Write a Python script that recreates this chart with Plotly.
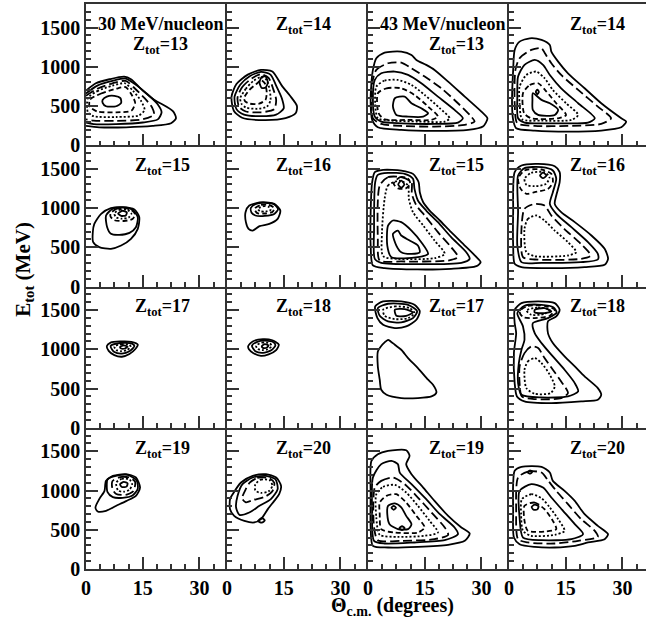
import plotly.graph_objects as go
from plotly.subplots import make_subplots

# ---------------- tick labels / panel labels ----------------
theta_ticks = [0, 15, 30]
energy_ticks = [0, 500, 1000, 1500]
z_odd = [13, 15, 17, 19]
z_even = [14, 16, 18, 20]
beam_labels = ["30 MeV/nucleon", "43 MeV/nucleon"]

# ---------------- contour lines ----------------
# each entry: (contour level, [(theta_cm in degrees, E_tot in MeV), ...])
c30_z13 = [
    (1, [(0, 696), (2.6, 790), (6.2, 841), (10.1, 875), (11.9, 841), (15.0, 696), (18.1, 578), (21.2, 493), (23.1, 429), (23.8, 344), (22.5, 280), (17.6, 246), (10.6, 229), (3.5, 229), (0, 246)]),
    (3, [(0, 660), (3, 760), (7, 820), (10.5, 850), (13.5, 760), (16.5, 640), (19, 520), (20, 420), (19, 330), (15, 290), (8, 270), (2, 270), (0, 290)]),
    (2, [(0, 630), (3, 720), (7, 790), (10.5, 820), (13, 720), (15.5, 600), (17.5, 480), (18, 390), (15, 330), (8, 310), (2, 315), (0, 330)]),
    (4, [(0.5, 600), (3, 690), (7, 760), (10.3, 790), (12.5, 690), (14.5, 570), (15.5, 450), (14, 380), (8, 360), (2, 370), (0.5, 420), (0.5, 600)]),
    (5, [(1, 580), (4, 660), (8, 720), (10.5, 740), (12, 650), (13, 540), (12, 440), (8, 420), (3, 430), (1, 490), (1, 580)]),
    (6, [(4.4, 578), (5.5, 620), (7.5, 629), (9.1, 600), (9.3, 540), (8, 497), (5.3, 497), (4.4, 540), (4.4, 578)]),
]
c30_z14 = [
    (1, [(1.2, 620), (2.5, 780), (5.5, 900), (9, 960), (12, 940), (14.5, 760), (17, 610), (18.5, 500), (18.2, 410), (15.5, 345), (10, 320), (4, 350), (1.8, 440), (1.2, 620)]),
    (3, [(2, 620), (3.5, 770), (6, 880), (9, 935), (11.5, 900), (13, 760), (14.5, 600), (15, 470), (13, 390), (9, 370), (4.5, 390), (2.5, 460), (2, 620)]),
    (2, [(2.8, 610), (4, 740), (6.5, 850), (9, 905), (11, 860), (12.2, 720), (13, 580), (12.5, 460), (9, 420), (5, 430), (3.2, 490), (2.8, 610)]),
    (4, [(3.5, 600), (5, 720), (7, 820), (9, 870), (10.5, 830), (11.3, 700), (11.5, 570), (10.5, 490), (8, 465), (5, 480), (3.8, 530), (3.5, 600)]),
    (5, [(4.5, 600), (6, 710), (8, 790), (9, 830), (10, 790), (10.5, 680), (10.2, 580), (8.5, 530), (6, 530), (4.8, 560), (4.5, 600)]),
    (6, [(8.6, 800), (9.2, 870), (10.2, 875), (10.8, 800), (10.2, 735), (9.2, 730), (8.6, 800)]),
]
c30_z15 = [
    (1, [(2.2, 798), (4.0, 926), (6.6, 998), (9.7, 1011), (12.8, 981), (14.1, 883), (13.7, 735), (11.9, 607), (9.3, 522), (6.6, 480), (3.5, 501), (1.9, 565), (1.8, 692), (2.2, 798)]),
    (3, [(5.3, 905), (7.1, 990), (9.7, 1007), (12.3, 977), (13.7, 883), (13.2, 756), (11.5, 684), (8.8, 658), (6.6, 671), (5.6, 756), (5.3, 905)]),
    (5, [(6.5, 930), (8, 990), (10, 1000), (12, 975), (13, 920), (12.3, 860), (10, 835), (7.5, 845), (6.5, 890), (6.5, 930)]),
    (4, [(7.5, 930), (9, 980), (11, 975), (12, 930), (11.3, 880), (9.5, 865), (8, 880), (7.5, 930)]),
    (6, [(8.5, 930), (9.7, 965), (10.8, 945), (10.5, 905), (9.3, 900), (8.5, 930)]),
]
c30_z16 = [
    (1, [(4.9, 947), (5.9, 1032), (9.4, 1074), (12.5, 1053), (14.1, 968), (13.4, 862), (11.2, 798), (8.6, 769), (6.8, 713), (5.7, 735), (5.0, 820), (4.9, 947)]),
    (3, [(6.3, 1000), (7.5, 1050), (10, 1065), (12.5, 1045), (13.5, 985), (12.5, 925), (10, 900), (7.5, 905), (6.5, 940), (6.3, 1000)]),
    (5, [(7.3, 990), (9, 1040), (11, 1040), (12.5, 1000), (12, 950), (10, 930), (8, 935), (7.3, 990)]),
    (4, [(8.2, 990), (9.7, 1025), (11.2, 1010), (11.5, 975), (10.2, 955), (8.7, 960), (8.2, 990)]),
]
c30_z17 = [
    (1, [(5.5, 1040), (6.5, 1085), (9, 1100), (12, 1095), (13.7, 1060), (13, 1000), (11.5, 940), (9.5, 905), (7.5, 925), (6, 980), (5.5, 1040)]),
    (3, [(6.5, 1040), (9, 1080), (12, 1075), (12.8, 1040), (11.5, 975), (9.5, 945), (7.5, 965), (6.5, 1040)]),
    (4, [(7.5, 1035), (9.5, 1065), (11.5, 1058), (11.8, 1030), (10.8, 990), (9.3, 975), (8, 990), (7.5, 1035)]),
    (6, [(9, 1030), (10, 1050), (11, 1035), (10.3, 1010), (9.3, 1010), (9, 1030)]),
]
c30_z18 = [
    (1, [(5.6, 1040), (6.8, 1100), (9.5, 1130), (12, 1115), (13.7, 1060), (13, 990), (11, 935), (9, 915), (7, 950), (5.8, 1000), (5.6, 1040)]),
    (3, [(6.6, 1045), (8, 1095), (10, 1110), (12.3, 1090), (12.8, 1050), (11.8, 990), (9.5, 955), (7.5, 975), (6.6, 1045)]),
    (4, [(7.7, 1045), (9.3, 1085), (11.3, 1075), (11.8, 1040), (10.8, 1000), (9.3, 990), (8.1, 1005), (7.7, 1045)]),
    (6, [(9.2, 1040), (10, 1065), (11, 1050), (10.5, 1020), (9.5, 1018), (9.2, 1040)]),
]
c30_z19 = [
    (1, [(5.3, 1124), (7.1, 1187), (10.6, 1208), (13.2, 1166), (14.3, 1039), (13.2, 933), (10.6, 865), (7.9, 803), (5.3, 741), (3.1, 733), (2.5, 784), (3.5, 890), (4.9, 996), (5.1, 1081), (5.3, 1124)]),
    (3, [(5.7, 1145), (7.9, 1187), (11.0, 1200), (13.4, 1128), (13.7, 1022), (12.3, 937), (9.7, 907), (7.1, 916), (5.7, 980), (5.5, 1081), (5.7, 1145)]),
    (2, [(7, 1120), (9, 1170), (11.5, 1165), (13, 1110), (12.5, 990), (10.5, 945), (8, 955), (7, 1020), (7, 1120)]),
    (4, [(8, 1100), (9.5, 1150), (11.5, 1140), (12.2, 1080), (11.5, 1010), (10, 985), (8.5, 1000), (8, 1100)]),
    (6, [(9, 1080), (10, 1110), (11, 1090), (10.7, 1050), (9.5, 1045), (9, 1080)]),
]
c30_z20 = [
    (1, [(1.5, 953), (3.7, 1102), (6.8, 1187), (10.3, 1208), (13.0, 1166), (14.3, 1060), (13.8, 953), (12.5, 868), (10.8, 763), (9.0, 636), (7.2, 593), (4.6, 614), (1.9, 678), (0.8, 763), (0.8, 890), (1.5, 953)]),
    (3, [(4.1, 1081), (6.8, 1166), (10.3, 1187), (12.8, 1145), (13.4, 1018), (11.6, 890), (8.6, 805), (5.9, 720), (3.3, 690), (2.4, 784), (2.8, 933), (4.1, 1081)]),
    (2, [(6, 1100), (8, 1160), (11, 1160), (12.5, 1100), (12, 990), (10, 920), (7, 880), (5, 850), (4, 900), (5, 1020), (6, 1100)]),
    (4, [(7.5, 1080), (9, 1140), (11.3, 1130), (12, 1060), (11, 990), (9, 970), (7.5, 1000), (7.5, 1080)]),
    (6, [(8.2, 610), (9.2, 650), (10, 620), (9.2, 590), (8.2, 610)]),
]
c43_z13 = [
    (1, [(1.3, 960), (2.2, 1108), (4.4, 1181), (8.8, 1193), (11.5, 1151), (12.8, 1087), (15.4, 1024), (17.6, 960), (21.2, 811), (25.6, 620), (30.0, 429), (31.6, 344), (30.4, 238), (26.5, 195), (17.6, 183), (8.8, 195), (2.6, 229), (1.1, 323), (0.7, 535), (0.9, 790), (1.3, 960)]),
    (2, [(1.1, 790), (2.2, 960), (5.3, 1045), (8.8, 1053), (11.5, 981), (15, 875), (19.4, 726), (23.8, 535), (27.3, 365), (28.2, 302), (25.6, 259), (17.6, 238), (8.8, 246), (3.5, 272), (1.3, 344), (0.9, 535), (1.1, 790)]),
    (3, [(1.8, 832), (3.5, 917), (7.1, 939), (10.6, 896), (14.1, 790), (18.5, 620), (22.9, 450), (25.1, 344), (23.8, 289), (17.6, 272), (8.8, 280), (3.5, 302), (1.8, 365), (1.3, 578), (1.8, 832)]),
    (4, [(2.2, 747), (4.4, 824), (7.9, 832), (11.5, 769), (15, 641), (19, 471), (21.6, 344), (20.3, 302), (13.2, 302), (6.2, 314), (2.6, 344), (1.9, 535), (2.2, 747)]),
    (5, [(2.6, 663), (4.9, 726), (8.8, 726), (12.3, 641), (15.9, 493), (18.5, 365), (16.8, 323), (10.6, 323), (4.4, 331), (2.8, 408), (2.6, 663)]),
    (6, [(7.1, 599), (9.7, 620), (11.5, 535), (14.1, 471), (15.9, 408), (14.6, 365), (10.6, 365), (7.5, 386), (6.6, 493), (7.1, 599)]),
]
c43_z14 = [
    (1, [(1.5, 1215), (2.8, 1321), (5.5, 1363), (8.6, 1342), (10.8, 1278), (11.2, 1193), (13.0, 1066), (15.6, 917), (20, 726), (24.4, 535), (29.7, 344), (31.0, 302), (29.7, 229), (24.4, 187), (15.6, 174), (6.8, 187), (1.9, 217), (1.1, 323), (0.8, 535), (1.1, 960), (1.5, 1215)]),
    (2, [(1.7, 960), (2.8, 1108), (5.9, 1215), (8.6, 1236), (9.5, 1172), (11.2, 1045), (13.8, 896), (18.3, 705), (23.5, 493), (27.0, 344), (24.4, 272), (15.6, 246), (6.8, 246), (2.2, 280), (1.5, 535), (1.7, 960)]),
    (3, [(2.4, 875), (4.1, 1024), (6.8, 1087), (9.0, 1024), (10.8, 896), (13.8, 726), (18.3, 535), (22.7, 344), (20.9, 289), (12.1, 280), (4.1, 289), (2.4, 344), (2.2, 620), (2.4, 875)]),
    (4, [(2.8, 747), (4.6, 896), (7.2, 939), (9.4, 854), (11.6, 705), (15.1, 535), (18.3, 386), (16.5, 323), (8.6, 314), (3.5, 331), (2.8, 535), (2.8, 747)]),
    (5, [(3.7, 663), (5.5, 769), (7.7, 790), (9.9, 684), (12.5, 535), (15.1, 386), (13, 344), (5.9, 344), (4.0, 408), (3.7, 663)]),
    (6, [(6.3, 663), (8.6, 578), (10.8, 535), (13, 450), (12.1, 386), (7.7, 386), (6.3, 450), (6.2, 578), (6.3, 663)]),
    (6, [(7.1, 680), (7.5, 710), (7.9, 680), (7.5, 650), (7.1, 680)]),
]
c43_z15 = [
    (1, [(1.1, 1329), (1.8, 1457), (4.0, 1486), (8.8, 1478), (11.9, 1435), (13.4, 1329), (13.7, 1202), (14.6, 1074), (16.3, 968), (19, 841), (22, 692), (25.6, 522), (28.7, 374), (29.8, 310), (28.7, 259), (22, 225), (13.2, 217), (4.4, 234), (1.3, 268), (0.7, 522), (0.7, 947), (1.1, 1329)]),
    (3, [(1.9, 1329), (2.6, 1423), (5.3, 1448), (9.7, 1435), (11.9, 1372), (12.3, 1244), (13.2, 1096), (15.4, 968), (18.5, 820), (22, 628), (26, 437), (26.9, 352), (24.7, 302), (13.2, 285), (3.5, 302), (1.8, 352), (1.6, 735), (1.9, 1329)]),
    (2, [(3.1, 1287), (5.3, 1393), (8.8, 1393), (11.5, 1329), (11.6, 1181), (12.8, 1032), (15, 905), (18.5, 692), (22, 501), (23.8, 374), (21.2, 331), (8.8, 319), (3.1, 331), (2.6, 607), (3.1, 1287)]),
    (4, [(4.4, 1117), (5.3, 1287), (8.4, 1350), (10.6, 1287), (10.8, 1117), (11.9, 947), (14.6, 777), (17.6, 586), (20.3, 416), (17.6, 361), (7.9, 352), (4.0, 386), (3.7, 692), (4.4, 1117)]),
    (6, [(5.3, 777), (6.6, 841), (8.8, 820), (11.5, 713), (14.1, 565), (15.9, 416), (13.2, 374), (6.2, 374), (5.1, 522), (5.3, 777)]),
    (6, [(6.6, 671), (7.9, 713), (8.8, 650), (11, 586), (13.2, 522), (13.7, 437), (11.5, 416), (8.8, 437), (7.5, 522), (6.6, 671)]),
    (5, [(6.8, 1310), (8.5, 1395), (10.5, 1380), (11.2, 1310), (10, 1250), (8, 1250), (6.8, 1310)]),
    (8, [(8, 1300), (8.8, 1350), (9.6, 1300), (8.8, 1260), (8, 1300)]),
]
c43_z16 = [
    (1, [(1.5, 1457), (3.3, 1542), (7.7, 1563), (12.1, 1533), (13.4, 1457), (13.4, 1329), (12.5, 1159), (12.1, 1053), (13.8, 947), (17.4, 820), (21.8, 650), (25.3, 480), (26.2, 352), (25.3, 276), (20, 246), (11.2, 234), (3.3, 246), (1.5, 289), (1.1, 522), (1.1, 947), (1.5, 1457)]),
    (3, [(2.4, 1414), (4.1, 1508), (8.6, 1520), (11.6, 1478), (12.5, 1372), (11.6, 1202), (10.8, 1053), (12.5, 926), (16.5, 756), (20.9, 565), (23.5, 416), (23.5, 344), (19, 310), (8.6, 302), (3.3, 310), (2.2, 522), (2.4, 947), (2.4, 1414)]),
    (2, [(3.3, 735), (4.1, 990), (6.8, 1053), (9.4, 1032), (11.2, 905), (14.6, 735), (19, 543), (21.6, 395), (19, 352), (6.8, 344), (3.7, 374), (3.3, 735)]),
    (4, [(4.1, 735), (5.0, 862), (7.2, 905), (9.4, 841), (12.1, 713), (15.6, 565), (17.8, 437), (15.6, 395), (6.8, 386), (4.6, 437), (4.1, 735)]),
    (5, [(2.4, 1372), (4.1, 1478), (8.6, 1491), (11.2, 1435), (11.6, 1329), (10.3, 1244), (6.8, 1202), (4.6, 1181), (3.1, 1244), (2.4, 1372)]),
    (7, [(4.1, 1372), (5.9, 1448), (9.4, 1457), (10.7, 1393), (9.8, 1308), (6.8, 1278), (4.6, 1295), (4.1, 1372)]),
    (8, [(8.2, 1415), (9, 1450), (9.9, 1415), (9, 1380), (8.2, 1415)]),
]
c43_z17 = [
    (1, [(1.9, 1546), (4.0, 1610), (8.8, 1610), (12.3, 1567), (13.7, 1482), (12.8, 1376), (10.1, 1291), (7.1, 1270), (4.0, 1312), (2.5, 1397), (1.9, 1546)]),
    (3, [(2.6, 1525), (5.3, 1580), (10.6, 1567), (13, 1482), (11.9, 1397), (8.8, 1342), (5.3, 1355), (3.1, 1427), (2.6, 1525)]),
    (4, [(4, 1503), (7.1, 1546), (11, 1525), (12.3, 1461), (10.6, 1397), (7.1, 1384), (4.4, 1427), (4, 1503)]),
    (6, [(7.1, 1503), (9.7, 1512), (11.9, 1470), (10.1, 1427), (7.5, 1427), (7.1, 1503)]),
    (1, [(5.3, 1121), (6.0, 1100), (7.1, 1057), (8.8, 994), (10.6, 888), (13.2, 760), (15.9, 612), (17.2, 548), (18.1, 450), (16.8, 399), (13.2, 378), (8.8, 378), (4.9, 420), (3.5, 484), (3.1, 612), (2.6, 781), (2.6, 973), (3.4, 1036), (4.4, 1087), (5.3, 1121)]),
]
c43_z18 = [
    (1, [(1.5, 1503), (3.3, 1588), (7.7, 1610), (12.1, 1588), (13.4, 1503), (12.5, 1418), (10.3, 1355), (10.3, 1206), (11.6, 1079), (14.7, 909), (17.4, 781), (20, 654), (23.5, 505), (24.4, 420), (23.5, 357), (19.1, 336), (11.2, 314), (4.1, 336), (2.1, 399), (1.5, 569), (1.3, 952), (1.9, 1206), (1.5, 1333), (1.5, 1503)]),
    (3, [(2.2, 1461), (4.1, 1554), (8.6, 1567), (11.7, 1537), (12.6, 1469), (10.3, 1397), (6.3, 1333), (6.8, 1206), (8.6, 1079), (11.6, 909), (14.7, 739), (17.4, 569), (18.3, 463), (15.6, 399), (8.6, 386), (3.3, 420), (2.4, 569), (2.6, 824), (3.3, 994), (4.1, 1121), (3.7, 1291), (2.2, 1461)]),
    (2, [(2.8, 781), (4.1, 951), (5.9, 1036), (7.7, 1015), (9.4, 888), (11.6, 739), (13.8, 590), (15.6, 442), (13.8, 378), (6.8, 365), (3.4, 399), (2.8, 569), (2.8, 781)]),
    (4, [(4.1, 739), (5.0, 845), (6.8, 888), (8.6, 824), (10.8, 675), (12.1, 527), (11, 442), (6.8, 433), (4.6, 505), (4.1, 739)]),
    (5, [(2.8, 1482), (5.0, 1554), (9.4, 1554), (12.1, 1503), (10.8, 1427), (6.8, 1397), (3.7, 1410), (2.8, 1482)]),
    (7, [(4.6, 1495), (7.7, 1533), (10.8, 1503), (9.4, 1452), (5.9, 1440), (4.6, 1495)]),
    (8, [(6.8, 1503), (9.4, 1525), (11.2, 1482), (9.4, 1461), (6.8, 1469), (6.8, 1503)]),
]
c43_z19 = [
    (1, [(0.9, 1378), (2.6, 1463), (5.3, 1506), (10.1, 1514), (11, 1442), (10.1, 1336), (11.5, 1208), (14.6, 1038), (17.6, 868), (21.2, 677), (24.7, 529), (26.9, 452), (25.6, 359), (21.2, 308), (13.2, 282), (5.3, 274), (1.3, 295), (0.7, 529), (0.7, 953), (0.9, 1378)]),
    (3, [(1.3, 1166), (3.5, 1336), (6.2, 1378), (7.9, 1336), (8.4, 1229), (11.5, 1081), (15.4, 889), (19, 698), (22.9, 529), (23.8, 444), (20.3, 367), (12.3, 338), (4.4, 325), (1.6, 359), (1.1, 741), (1.3, 1166)]),
    (2, [(1.8, 1038), (3.5, 1123), (6.6, 1166), (9.7, 1081), (13.2, 911), (16.8, 720), (20.3, 529), (21.2, 435), (17.6, 380), (8.8, 359), (2.6, 367), (1.6, 529), (1.8, 1038)]),
    (4, [(2.2, 953), (4.0, 1047), (7.1, 1072), (10.1, 975), (13.2, 805), (16.3, 614), (18.5, 465), (15, 423), (7.9, 410), (3.1, 435), (2.2, 656), (2.2, 953)]),
    (5, [(3.1, 847), (4.9, 932), (7.5, 953), (10.1, 847), (12.8, 677), (15, 529), (13.2, 465), (7.1, 465), (3.5, 508), (3.1, 699), (3.1, 847)]),
    (6, [(5.3, 805), (7.1, 835), (8.8, 784), (10.1, 677), (11.5, 571), (10.6, 508), (7.9, 508), (5.7, 571), (5.1, 699), (5.3, 805)]),
    (8, [(6.2, 780), (6.8, 805), (7.4, 780), (6.8, 755), (6.2, 780)]),
    (8, [(8.3, 520), (9, 545), (9.7, 520), (9, 495), (8.3, 520)]),
]
c43_z20 = [
    (1, [(1.5, 1251), (3.3, 1302), (8.6, 1302), (10.8, 1230), (11.6, 1123), (14.7, 996), (17.4, 868), (20, 698), (23.5, 550), (26.2, 444), (25.3, 380), (20.9, 338), (17.4, 295), (12.1, 274), (6.8, 282), (2.8, 316), (1.3, 401), (1.1, 741), (1.1, 1081), (1.5, 1251)]),
    (2, [(2.4, 1166), (5.0, 1242), (8.6, 1229), (10.4, 1123), (12.5, 996), (15.6, 826), (19.1, 635), (22.7, 486), (23.5, 410), (18.3, 359), (12.1, 325), (5.0, 338), (2.4, 380), (1.9, 741), (2.4, 1166)]),
    (3, [(2.8, 996), (5.9, 1081), (9.0, 1038), (11.2, 911), (14.3, 741), (17.4, 571), (19.6, 444), (16.5, 380), (8.6, 367), (3.7, 401), (2.8, 656), (2.8, 996)]),
    (4, [(3.4, 890), (5.9, 953), (8.6, 902), (10.8, 784), (13, 635), (14.7, 486), (12.1, 435), (5.9, 423), (3.7, 486), (3.2, 699), (3.4, 890)]),
    (5, [(4.1, 805), (6.8, 847), (9.4, 762), (11.6, 614), (12.5, 508), (9.4, 478), (5.0, 486), (4.1, 614), (4.1, 805)]),
    (6, [(6, 790), (6.8, 820), (7.8, 800), (7.5, 760), (6.5, 755), (6, 790)]),
    (6, [(5, 1230), (5.5, 1255), (6.2, 1240), (5.6, 1215), (5, 1230)]),
]

# ---------------- styling ----------------
LEVEL_DASH = {1: "solid", 2: "9px,4px", 3: "solid", 4: "2px,2px", 5: "5px,3px",
              6: "solid", 7: "2px,2px", 8: "solid"}
AX = "#333333"
SERIF = "Liberation Serif"
TICKFONT = dict(family=SERIF, size=20, color="black", weight="bold")
LABFONT = dict(family=SERIF, size=18, color="black", weight="bold")

panels = [
    [c30_z13, c30_z14, c43_z13, c43_z14],
    [c30_z15, c30_z16, c43_z15, c43_z16],
    [c30_z17, c30_z18, c43_z17, c43_z18],
    [c30_z19, c30_z20, c43_z19, c43_z20],
]
panel_z = [[z_odd[r], z_even[r], z_odd[r], z_even[r]] for r in range(4)]

fig = make_subplots(rows=4, cols=4, column_widths=[141, 141, 141, 137],
                    horizontal_spacing=0, vertical_spacing=0)

for r in range(4):
    for c in range(4):
        for level, pts in panels[r][c]:
            fig.add_trace(go.Scatter(
                x=[p[0] for p in pts], y=[p[1] for p in pts], mode="lines",
                line=dict(color="black", width=1.8, dash=LEVEL_DASH[level],
                          shape="spline", smoothing=0.7),
                showlegend=False, hoverinfo="skip"), row=r + 1, col=c + 1)

        xr = [0, 37.3] if c < 3 else [0, 36.24]
        fig.update_xaxes(range=xr, tickmode="array", tickvals=theta_ticks,
                         ticktext=[str(v) for v in theta_ticks],
                         ticks="inside", ticklen=12, tickwidth=1.5, tickcolor=AX,
                         minor=dict(ticks="inside", dtick=3.75, tick0=0, ticklen=5,
                                    tickwidth=1.5, tickcolor=AX, showgrid=False),
                         showline=True, linecolor=AX, linewidth=1.5,
                         mirror=(r == 0), showgrid=False, zeroline=False,
                         showticklabels=(r == 3), tickfont=TICKFONT,
                         row=r + 1, col=c + 1)
        fig.update_yaxes(range=[0, 1800], tickmode="array", tickvals=energy_ticks,
                         ticktext=[str(v) for v in energy_ticks],
                         ticks="inside", ticklen=12, tickwidth=1.5, tickcolor=AX,
                         minor=dict(ticks="inside", dtick=100, tick0=0, ticklen=5,
                                    tickwidth=1.5, tickcolor=AX, showgrid=False),
                         showline=True, linecolor=AX, linewidth=1.5, mirror=False,
                         showgrid=False, zeroline=False,
                         showticklabels=(c == 0), tickfont=TICKFONT,
                         row=r + 1, col=c + 1)

        ztext = "Z<sub>tot</sub>=%d" % panel_z[r][c]
        zx = 20.3 if c < 2 else 23.4
        zy = 1700
        if r == 0 and c in (0, 2):
            fig.add_annotation(text=beam_labels[c // 2], x=19.8, y=1700,
                               xanchor="center", yanchor="top", showarrow=False,
                               font=LABFONT, row=r + 1, col=c + 1)
            zy = 1445
            if c == 0:
                zx = 19.7
        fig.add_annotation(text=ztext, x=zx, y=zy, xanchor="center", yanchor="top",
                           showarrow=False, font=LABFONT, row=r + 1, col=c + 1)

fig.add_annotation(text="E<sub>tot</sub> (MeV)", xref="paper", yref="paper",
                   x=-0.112, y=0.53, textangle=-90, showarrow=False,
                   xanchor="center", yanchor="middle",
                   font=dict(family=SERIF, size=21, color="black", weight="bold"))
fig.add_annotation(text="\u0398<sub>c.m.</sub> (degrees)", xref="paper", yref="paper",
                   x=0.548, y=-0.067, showarrow=False,
                   xanchor="center", yanchor="middle",
                   font=dict(family=SERIF, size=20, color="black", weight="bold"))

fig.update_layout(width=646, height=618, margin=dict(l=86, r=0, t=4, b=49),
                  paper_bgcolor="white", plot_bgcolor="white", showlegend=False)

# remove the browser's default 8px page margin so the figure sits at the window origin
fig.write_html("out.html", config={"displayModeBar": False},
               post_script="document.body.style.margin='0px';")
